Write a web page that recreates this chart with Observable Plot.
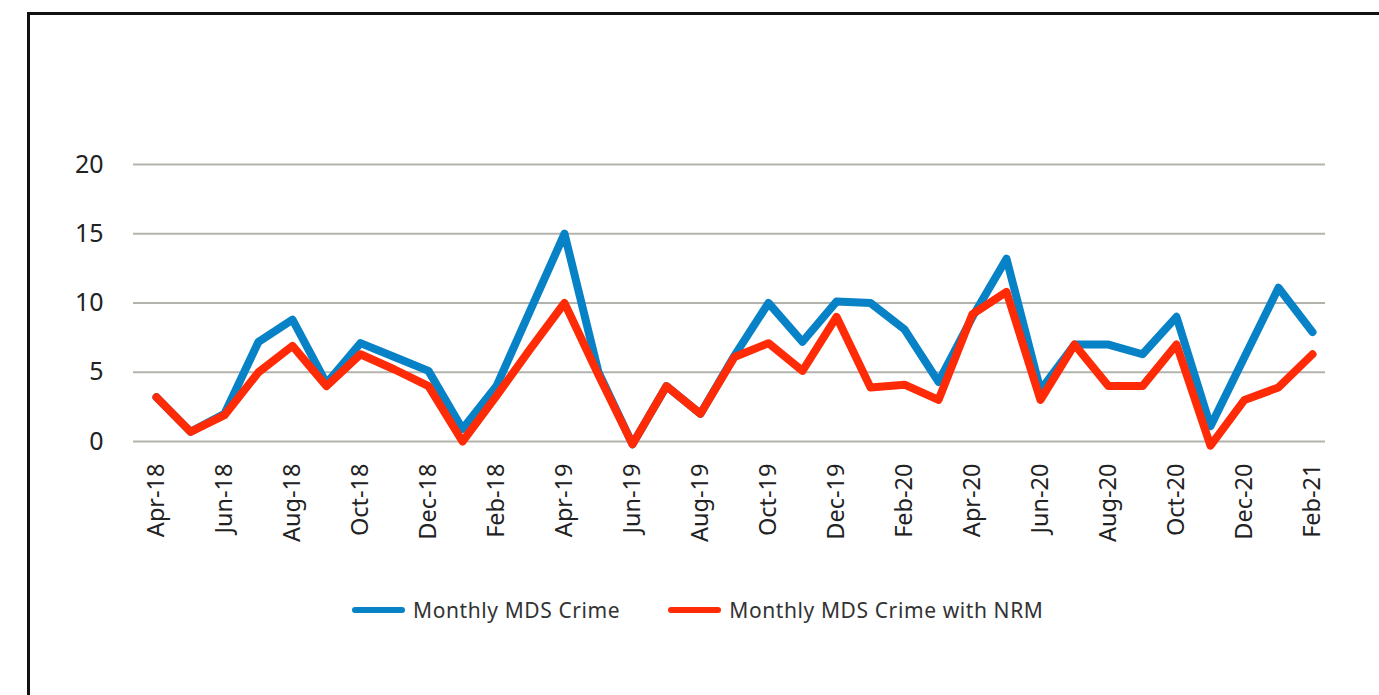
<!DOCTYPE html>
<html>
<head>
<meta charset="utf-8">
<script src="https://cdn.jsdelivr.net/npm/d3@7"></script>
<script src="https://cdn.jsdelivr.net/npm/@observablehq/plot@0.6"></script>
<style>
  html, body { margin: 0; padding: 0; background: #fff; width: 1379px; height: 695px; overflow: hidden; }
  #frame { position: absolute; left: 27px; top: 12px; width: 1400px; height: 720px;
           border-top: 3px solid #111; border-left: 3px solid #111; }
  #chart { position: absolute; left: 0; top: 0; }
  #legend { position: absolute; left: 352px; top: 596px; display: flex; align-items: center;
            font-family: "Noto Sans", sans-serif; font-size: 21px; letter-spacing: 0.6px; color: #333; }
  .item { display: flex; align-items: center; }
  .sw { width: 53px; height: 6px; border-radius: 3px; margin-right: 8px; }
</style>
</head>
<body>
<div id="frame"></div>
<div id="chart"></div>
<div id="legend"></div>
<script>
const months = ["Apr-18","May-18","Jun-18","Jul-18","Aug-18","Sep-18","Oct-18","Nov-18","Dec-18","Jan-19",
  "Feb-19","Mar-19","Apr-19","May-19","Jun-19","Jul-19","Aug-19","Sep-19","Oct-19","Nov-19",
  "Dec-19","Jan-20","Feb-20","Mar-20","Apr-20","May-20","Jun-20","Jul-20","Aug-20","Sep-20",
  "Oct-20","Nov-20","Dec-20","Jan-21","Feb-21"];

const mdsCrime = [3.2, 0.7, 2, 7.2, 8.8, 4.2, 7.1, 6.1, 5.1, 0.9,
  4, 9.5, 15, 5, -0.2, 4, 2, 6.2, 10, 7.2,
  10.1, 10, 8.1, 4.3, 9, 13.2, 3.7, 7, 7, 6.3,
  9, 1.1, 6.1, 11.1, 7.9];

const mdsCrimeNRM = [3.2, 0.7, 1.9, 5, 6.9, 4, 6.3, 5.2, 4, 0,
  3.3, 6.7, 10, 4.8, -0.2, 4, 2, 6.1, 7.1, 5.1,
  9, 3.9, 4.1, 3, 9.2, 10.8, 3, 7, 4, 4,
  7, -0.3, 3, 3.9, 6.3];

// x tick labels as printed in the source (note the original "Feb-18" label)
const tickLabels = ["Apr-18","Jun-18","Aug-18","Oct-18","Dec-18","Feb-18","Apr-19","Jun-19","Aug-19",
  "Oct-19","Dec-19","Feb-20","Apr-20","Jun-20","Aug-20","Oct-20","Dec-20","Feb-21"];
const yTicks = [0, 5, 10, 15, 20];

const seriesNames = ["Monthly MDS Crime", "Monthly MDS Crime with NRM"];
const seriesColors = ["#0782c6", "#ff2a06"];

const rows = [];
months.forEach((m, i) => {
  rows.push({month: m, value: mdsCrime[i], series: seriesNames[0]});
});
months.forEach((m, i) => {
  rows.push({month: m, value: mdsCrimeNRM[i], series: seriesNames[1]});
});
const tickMonths = months.filter((m, i) => i % 2 === 0);

const chart = Plot.plot({
  width: 1379,
  height: 560,
  marginLeft: 133,
  marginRight: 54,
  marginTop: 164,
  marginBottom: 119,
  style: {background: "transparent", overflow: "visible"},
  x: {type: "point", domain: months, padding: 0, range: [151, 1316]},
  y: {domain: [0, 20]},
  color: {domain: seriesNames, range: seriesColors},
  marks: [
    Plot.ruleY(yTicks, {stroke: "#b3b3ae", strokeWidth: 2}),
    Plot.axisY({ticks: yTicks, tickSize: 0, tickPadding: 30, fontSize: 25,
      fontFamily: "Noto Sans", fill: "#222", label: null}),
    Plot.axisX({ticks: tickMonths, tickSize: 0, tickPadding: 22, tickRotate: -90,
      tickFormat: (d) => tickLabels[tickMonths.indexOf(d)],
      fontSize: 23.5, fontFamily: "Noto Sans", fill: "#222", label: null}),
    Plot.line(rows, {x: "month", y: "value", z: "series", stroke: "series",
      strokeWidth: 8, strokeLinecap: "round", strokeLinejoin: "round"})
  ]
});
document.getElementById("chart").appendChild(chart);

const legend = document.getElementById("legend");
seriesNames.forEach((name, i) => {
  const item = document.createElement("div");
  item.className = "item";
  if (i > 0) item.style.marginLeft = "48px";
  const sw = document.createElement("div");
  sw.className = "sw";
  sw.style.background = seriesColors[i];
  const t = document.createElement("span");
  t.textContent = name;
  item.appendChild(sw);
  item.appendChild(t);
  legend.appendChild(item);
});
</script>
</body>
</html>
